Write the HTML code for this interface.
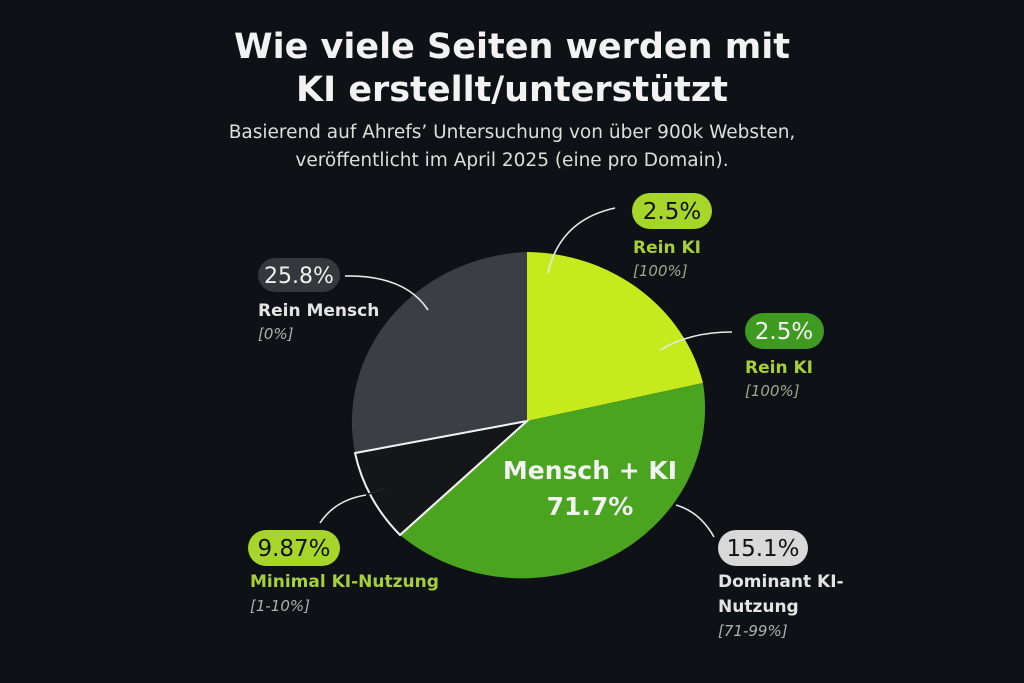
<!DOCTYPE html>
<html><head><meta charset="utf-8"><style>
html,body{margin:0;padding:0;background:#0d1014;}
svg{display:block}
text{font-family:"DejaVu Sans","Liberation Sans",sans-serif}
</style></head><body>
<svg width="1024" height="683" viewBox="0 0 1024 683" xmlns="http://www.w3.org/2000/svg">
<rect width="1024" height="683" fill="#0e1115"/>
<text x="512" y="58" text-anchor="middle" fill="#f2f2f2" font-size="35" font-weight="bold">Wie viele Seiten werden mit</text>
<text x="512" y="101" text-anchor="middle" fill="#f2f2f2" font-size="35" font-weight="bold">KI erstellt/unterstützt</text>
<text x="512" y="138" text-anchor="middle" fill="#dedede" font-size="18.5">Basierend auf Ahrefs’ Untersuchung von über 900k Websten,</text>
<text x="512" y="166" text-anchor="middle" fill="#dedede" font-size="18.5">veröffentlicht im April 2025 (eine pro Domain).</text>

<path d="M527,421 L527,252 A183,170 0 0 1 703,383 Z" fill="#c6ea1c"/>
<path d="M527,421 L703,383 A183,170 0 0 1 400,535 Z" fill="#4aa41f"/>
<path d="M527,421 L400,535 A183,170 0 0 1 355,453 Z" fill="#141619" stroke="#f0f0f0" stroke-width="2"/>
<path d="M527,421 L355,453 A183,170 0 0 1 527,252 Z" fill="#3b3e44"/>
<line x1="527" y1="421" x2="355" y2="453" stroke="#f0f0f0" stroke-width="2"/>
<line x1="527" y1="421" x2="400" y2="535" stroke="#f0f0f0" stroke-width="2"/>

<g fill="none" stroke="#e8e8e8" stroke-width="1.6">
<path d="M548,273 Q560,220 615,208"/>
<path d="M660,350 Q690,332 732,332"/>
<path d="M345,276 Q405,275 428,310"/>
<path d="M320,523 Q335,500 366,495"/>
<path d="M714,537 Q700,512 676,505"/>
</g>
<line x1="366" y1="495" x2="386" y2="488" stroke="#222" stroke-width="1.6"/>

<text x="590" y="479" text-anchor="middle" fill="#f2f2f2" font-size="25" font-weight="bold">Mensch + KI</text>
<text x="590" y="515" text-anchor="middle" fill="#f2f2f2" font-size="25" font-weight="bold">71.7%</text>

<rect x="632" y="193" width="80" height="36" rx="18" fill="#a6d62a"/>
<text x="672" y="219" text-anchor="middle" fill="#111" font-size="23" font-family="Liberation Sans">2.5%</text>
<text x="633" y="253" fill="#a8cf3a" font-size="17" font-weight="bold">Rein KI</text>
<text x="633" y="276" fill="#a0a88a" font-size="15" font-style="italic">[100%]</text>

<rect x="745" y="313" width="79" height="36" rx="18" fill="#3f9a22"/>
<text x="784" y="339" text-anchor="middle" fill="#f4f4f4" font-size="23" font-family="Liberation Sans">2.5%</text>
<text x="745" y="373" fill="#a8cf3a" font-size="17" font-weight="bold">Rein KI</text>
<text x="745" y="396" fill="#a0a88a" font-size="15" font-style="italic">[100%]</text>

<rect x="258" y="258" width="82" height="34" rx="17" fill="#34373c"/>
<text x="299" y="283" text-anchor="middle" fill="#f0f0f0" font-size="22" font-family="Liberation Sans">25.8%</text>
<text x="258" y="316" fill="#e4e4e4" font-size="17" font-weight="bold">Rein Mensch</text>
<text x="258" y="339" fill="#b0b0b0" font-size="15" font-style="italic">[0%]</text>

<rect x="248" y="530" width="92" height="36" rx="18" fill="#a6d62a"/>
<text x="294" y="556" text-anchor="middle" fill="#111" font-size="23" font-family="Liberation Sans">9.87%</text>
<text x="250" y="587" fill="#a8cf3a" font-size="17" font-weight="bold">Minimal KI-Nutzung</text>
<text x="250" y="611" fill="#b0b0b0" font-size="15" font-style="italic">[1-10%]</text>

<rect x="718" y="530" width="90" height="36" rx="18" fill="#d9d9d9"/>
<text x="763" y="556" text-anchor="middle" fill="#111" font-size="23" font-family="Liberation Sans">15.1%</text>
<text x="718" y="587" fill="#e4e4e4" font-size="17" font-weight="bold">Dominant KI-</text>
<text x="718" y="612" fill="#e4e4e4" font-size="17" font-weight="bold">Nutzung</text>
<text x="718" y="636" fill="#b0b0b0" font-size="15" font-style="italic">[71-99%]</text>
</svg>
</body></html>
